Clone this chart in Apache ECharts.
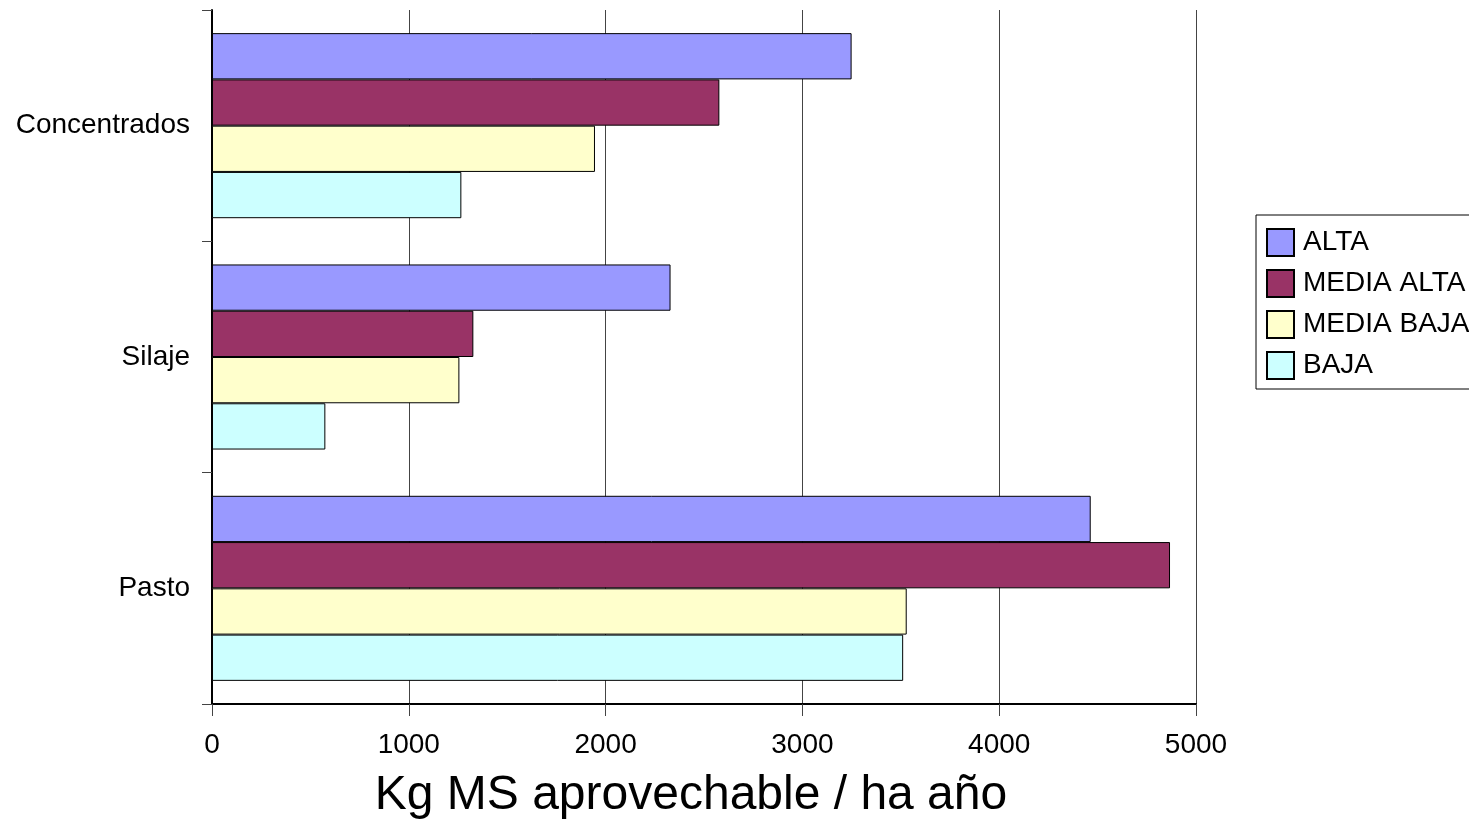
<!DOCTYPE html>
<html>
<head>
<meta charset="utf-8">
<script src="https://cdn.jsdelivr.net/npm/echarts@6/dist/echarts.min.js"></script>
<style>
html,body{margin:0;padding:0;background:#fff;}
#c{width:1469px;height:820px;}
</style>
</head>
<body>
<div id="c"></div>
<script>
var categories = ['Concentrados', 'Silaje', 'Pasto'];
var seriesNames = ['ALTA', 'MEDIA ALTA', 'MEDIA BAJA', 'BAJA'];
var alta = [3250, 2330, 4465];
var mediaAlta = [2578, 1328, 4868];
var mediaBaja = [1946, 1257, 3530];
var baja = [1267, 576, 3512];
var xTicks = [0, 1000, 2000, 3000, 4000, 5000];
var axisTitle = 'Kg MS aprovechable / ha año';
var colors = ['#9999FF', '#993366', '#FFFFCC', '#CCFFFF'];

var values = [alta, mediaAlta, mediaBaja, baja];
var chart = echarts.init(document.getElementById('c'));
var font = 'Liberation Sans, Arial, sans-serif';
chart.setOption({
  animation: false,
  textStyle: {fontFamily: font},
  grid: {left: 212, right: 273, top: 10, bottom: 116, containLabel: false, outerBoundsMode: 'none'},
  legend: {
    orient: 'vertical',
    left: 1256, top: 215,
    data: seriesNames,
    itemWidth: 27, itemHeight: 27,
    itemGap: 12,
    padding: [13, 12, 9, 10],
    borderColor: '#000', borderWidth: 1,
    icon: 'rect',
    textStyle: {fontSize: 28, lineHeight: 28, color: '#000', fontFamily: font, padding: [0, 0, 0, 4]}
  },
  xAxis: {
    type: 'value', min: xTicks[0], max: xTicks[xTicks.length - 1], interval: 1000,
    axisLine: {show: true, lineStyle: {color: '#000', width: 2}},
    axisTick: {show: true, length: 12, lineStyle: {color: '#444'}},
    axisLabel: {fontSize: 28, color: '#000', margin: 27, fontFamily: font,
      formatter: function (v) { return String(v); }},
    splitLine: {show: true, lineStyle: {color: '#444', width: 1}},
    name: axisTitle, nameLocation: 'middle', nameGap: 68,
    nameTextStyle: {fontSize: 48, color: '#000', fontFamily: font, padding: [0, 26, 0, 0]}
  },
  yAxis: {
    type: 'category', data: categories, inverse: true,
    axisLine: {show: true, lineStyle: {color: '#000', width: 2}},
    axisTick: {show: true, length: 10, lineStyle: {color: '#444'}},
    axisLabel: {fontSize: 28, color: '#000', margin: 22, fontFamily: font},
    splitLine: {show: false}
  },
  series: seriesNames.map(function (n, i) {
    return {
      name: n, type: 'bar', data: values[i],
      barGap: '0%', barCategoryGap: '20%',
      itemStyle: {color: colors[i], borderColor: '#000', borderWidth: 1}
    };
  })
});
</script>
</body>
</html>
